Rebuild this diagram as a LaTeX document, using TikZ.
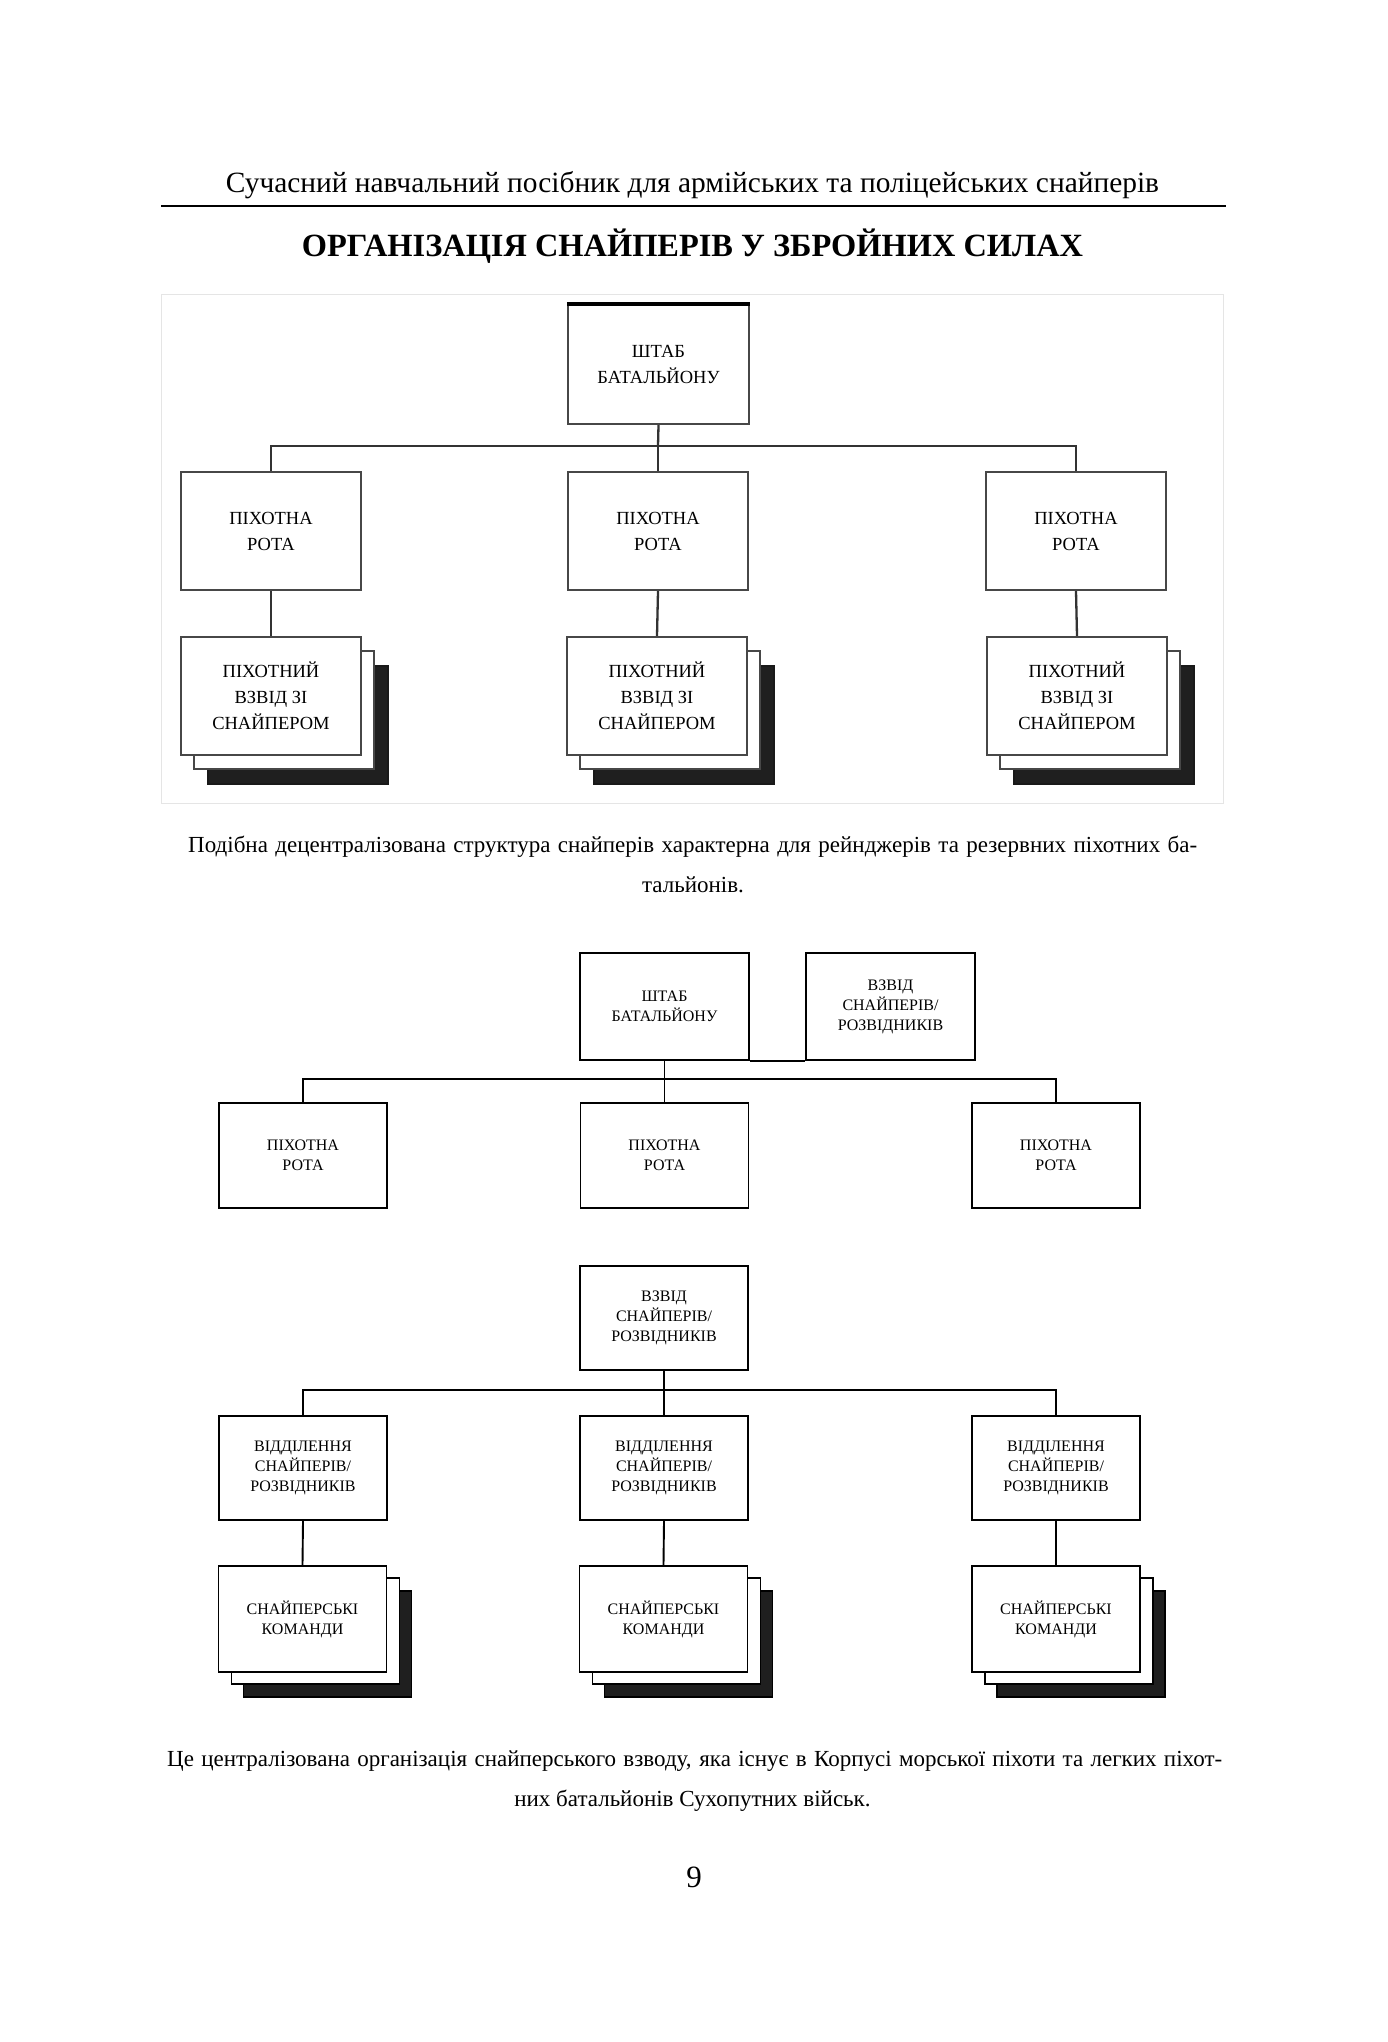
\documentclass[tikz,border=0pt]{standalone}
\usepackage{fontspec}
\setmainfont{Liberation Serif}
\begin{document}
\begin{tikzpicture}[x=1pt,y=-1pt,
  boxA/.style={draw=black!72, line width=2.3pt, fill=white, minimum width=180pt, minimum height=118pt, inner sep=0pt, align=center, font=\fontsize{18.5}{26}\selectfont, text=black},
  darkA/.style={boxA, fill=black!88, draw=black!90},
  boxB/.style={draw=black, line width=1.9pt, fill=white, minimum width=168pt, minimum height=105pt, inner sep=0pt, align=center, font=\fontsize{16}{20}\selectfont},
  darkB/.style={boxB, fill=black!88},
  conA/.style={draw=black!80, line width=2.3pt},
  conB/.style={draw=black, line width=1.9pt},
  txt/.style={inner sep=0pt, font=\fontsize{23}{27}\selectfont}
]
\useasboundingbox (0,0) rectangle (1388,2042);
\fill[white] (0,0) rectangle (1388,2042);

% header
\node[txt, anchor=base, font=\fontsize{29.4}{34}\selectfont] (hdr) at (692.5,192) {Сучасний навчальний посібник для армійських та поліцейських снайперів};
\draw[line width=1.3pt] (161,206) -- (1226,206);
\node[txt, anchor=base, font=\fontsize{32.4}{37}\selectfont\bfseries] (title) at (692.5,256) {ОРГАНІЗАЦІЯ СНАЙПЕРІВ У ЗБРОЙНИХ СИЛАХ};

% frame of first picture
\draw[black!10, line width=1pt] (161,294) rectangle (1223,803);

% ---------- diagram 1 ----------
\node[boxA, minimum height=119pt, minimum width=181pt] (d1hq) at (658.5,364.5) {ШТАБ\\БАТАЛЬЙОНУ};
\node[boxA] (d1rl) at (271,531) {ПІХОТНА\\РОТА};
\node[boxA] (d1rc) at (658,531) {ПІХОТНА\\РОТА};
\node[boxA] (d1rr) at (1076,531) {ПІХОТНА\\РОТА};

\foreach \n/\x in {l/271,c/657,r/1077}{
  \node[darkA] (d1p\n3) at (\x+27,696+29) {};
  \node[boxA] (d1p\n2) at (\x+13,696+14) {};
  \node[boxA] (d1p\n) at (\x,696) {ПІХОТНИЙ\\ВЗВІД ЗІ\\СНАЙПЕРОМ};
}
\draw[black, line width=3.5pt] (d1hq.north west) -- (d1hq.north east);

\coordinate (b1) at (658,446);
\draw[conA] (d1hq.south) -- (b1);
\draw[conA] (d1rl.north) |- (b1) -| (d1rr.north);
\draw[conA] (b1) -- (d1rc.north);
\draw[conA] (d1rl.south) -- (d1pl.north);
\draw[conA] (d1rc.south) -- (d1pc.north);
\draw[conA] (d1rr.south) -- (d1pr.north);

% caption 1
\node[txt, anchor=base west] (cap1a) at (188,852) {\makebox[1009pt][s]{Подібна децентралізована структура снайперів характерна для рейнджерів та резервних піхотних ба-}};
\node[txt, anchor=base] (cap1b) at (693,892) {тальйонів.};

% ---------- diagram 2 ----------
\node[boxB, minimum width=169pt, minimum height=107pt] (d2hq) at (664.5,1006.5) {ШТАБ\\БАТАЛЬЙОНУ};
\node[boxB, minimum width=169pt, minimum height=107pt] (d2vz) at (890.5,1006.5) {ВЗВІД\\СНАЙПЕРІВ/\\РОЗВІДНИКІВ};
\draw[conB] (d2hq.south east) -- (d2vz.south west);

\node[boxB] (d2rl) at (303,1155.5) {ПІХОТНА\\РОТА};
\node[boxB] (d2rc) at (664.5,1155.5) {ПІХОТНА\\РОТА};
\node[boxB] (d2rr) at (1056,1155.5) {ПІХОТНА\\РОТА};

\coordinate (b2) at (664.5,1079);
\draw[conB] (d2hq.south) -- (b2);
\draw[conB] (d2rl.north) |- (b2) -| (d2rr.north);
\draw[conB] (b2) -- (d2rc.north);

\node[boxB, minimum height=104pt] (d2pv) at (664,1318) {ВЗВІД\\СНАЙПЕРІВ/\\РОЗВІДНИКІВ};

\node[boxB, minimum height=104pt] (d2sl) at (303,1468) {ВІДДІЛЕННЯ\\СНАЙПЕРІВ/\\РОЗВІДНИКІВ};
\node[boxB, minimum height=104pt] (d2sc) at (664,1468) {ВІДДІЛЕННЯ\\СНАЙПЕРІВ/\\РОЗВІДНИКІВ};
\node[boxB, minimum height=104pt] (d2sr) at (1056,1468) {ВІДДІЛЕННЯ\\СНАЙПЕРІВ/\\РОЗВІДНИКІВ};

\coordinate (b3) at (664,1390);
\draw[conB] (d2pv.south) -- (b3);
\draw[conB] (d2sl.north) |- (b3) -| (d2sr.north);
\draw[conB] (b3) -- (d2sc.north);

\foreach \n/\x in {l/302.5,c/663.5,r/1056}{
  \node[darkB, minimum height=106pt] (d2k\n3) at (\x+25,1619+25) {};
  \node[boxB, minimum height=106pt] (d2k\n2) at (\x+13,1619+12) {};
  \node[boxB, minimum height=106pt] (d2k\n) at (\x,1619) {СНАЙПЕРСЬКІ\\КОМАНДИ};
}
\draw[conB] (d2sl.south) -- (d2kl.north);
\draw[conB] (d2sc.south) -- (d2kc.north);
\draw[conB] (d2sr.south) -- (d2kr.north);

% caption 2
\node[txt, anchor=base west] (cap2a) at (167,1766) {\makebox[1055pt][s]{Це централізована організація снайперського взводу, яка існує в Корпусі морської піхоти та легких піхот-}};
\node[txt, anchor=base] (cap2b) at (692.5,1806) {них батальйонів Сухопутних військ.};

% page number
\node[txt, anchor=base, font=\fontsize{31}{36}\selectfont] (pnum) at (694,1887) {9};
\end{tikzpicture}
\end{document}
